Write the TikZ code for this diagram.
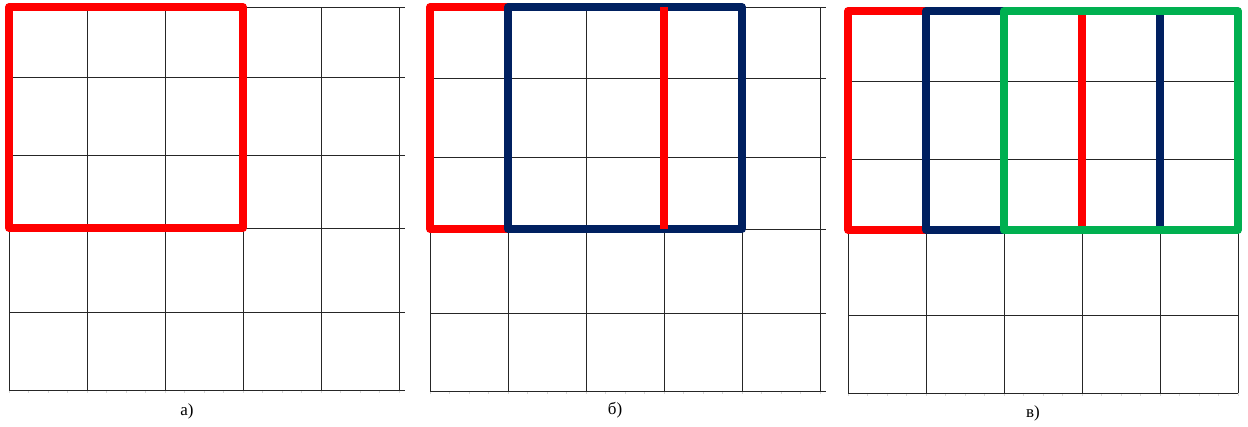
\documentclass[tikz,border=0pt]{standalone}
\usepackage{fontspec}
\setmainfont{Liberation Serif}
\definecolor{markred}{HTML}{FF0000}
\definecolor{marknavy}{HTML}{002060}
\definecolor{markgreen}{HTML}{00B050}
\tikzset{
  gridline/.style={black!85, line width=1pt},
  tickline/.style={gray!30, line width=0.5pt},
  frame/.style={line width=7.5pt, line join=round, line cap=round},
  cut/.style={line width=7.5pt},
  caption/.style={font=\fontsize{17}{19}\selectfont, inner sep=0pt},
}
\begin{document}
\begin{tikzpicture}[x=1pt, y=-1pt]
  \useasboundingbox (0,0) rectangle (1248,426);
  % three 5x5 grids: left edge / width of row lines / top / bottom / inner rows
  \foreach \ox/\len/\ytop/\ybot/\rows in {9/396/7/390/{77,155,228,312},
                                          430/396/7/391/{78,157,229,313},
                                          848/390/11/393/{81,159,230,315}} {
    \foreach \k in {0,...,20}
      \draw[tickline] (\ox+19.5*\k,\ybot) -- ++(0,3);
    \draw[gridline] (\ox,\ytop) -- ++(\len,0);
    \draw[gridline] (\ox,\ybot) -- ++(\len,0);
    \foreach \y in \rows
      \draw[gridline] (\ox,\y) -- ++(\len,0);
    \foreach \i in {0,...,5}
      \draw[gridline] (\ox+78*\i,\ytop) -- (\ox+78*\i,\ybot);
  }
  % a) one red square
  \draw[frame, markred] (9,7) rectangle (243,228);
  \node[caption] (capA) at (187,411) {а)};
  % b) red and blue
  \draw[frame, markred] (508,7) -- (430,7) -- (430,229) -- (508,229);
  \draw[frame, marknavy] (508,7) rectangle (742,229);
  \draw[cut, markred] (664,7) -- (664,229);
  \node[caption] (capB) at (615,410) {б)};
  % c) red, blue and green
  \draw[frame, markred] (926,11) -- (848,11) -- (848,230) -- (926,230);
  \draw[frame, marknavy] (1004,11) -- (926,11) -- (926,230) -- (1004,230);
  \draw[cut, markred] (1082,14) -- (1082,227);
  \draw[cut, marknavy] (1160,14) -- (1160,227);
  \draw[frame, markgreen] (1004,11) rectangle (1238,230);
  \node[caption] (capC) at (1033,413) {в)};
\end{tikzpicture}
\end{document}
